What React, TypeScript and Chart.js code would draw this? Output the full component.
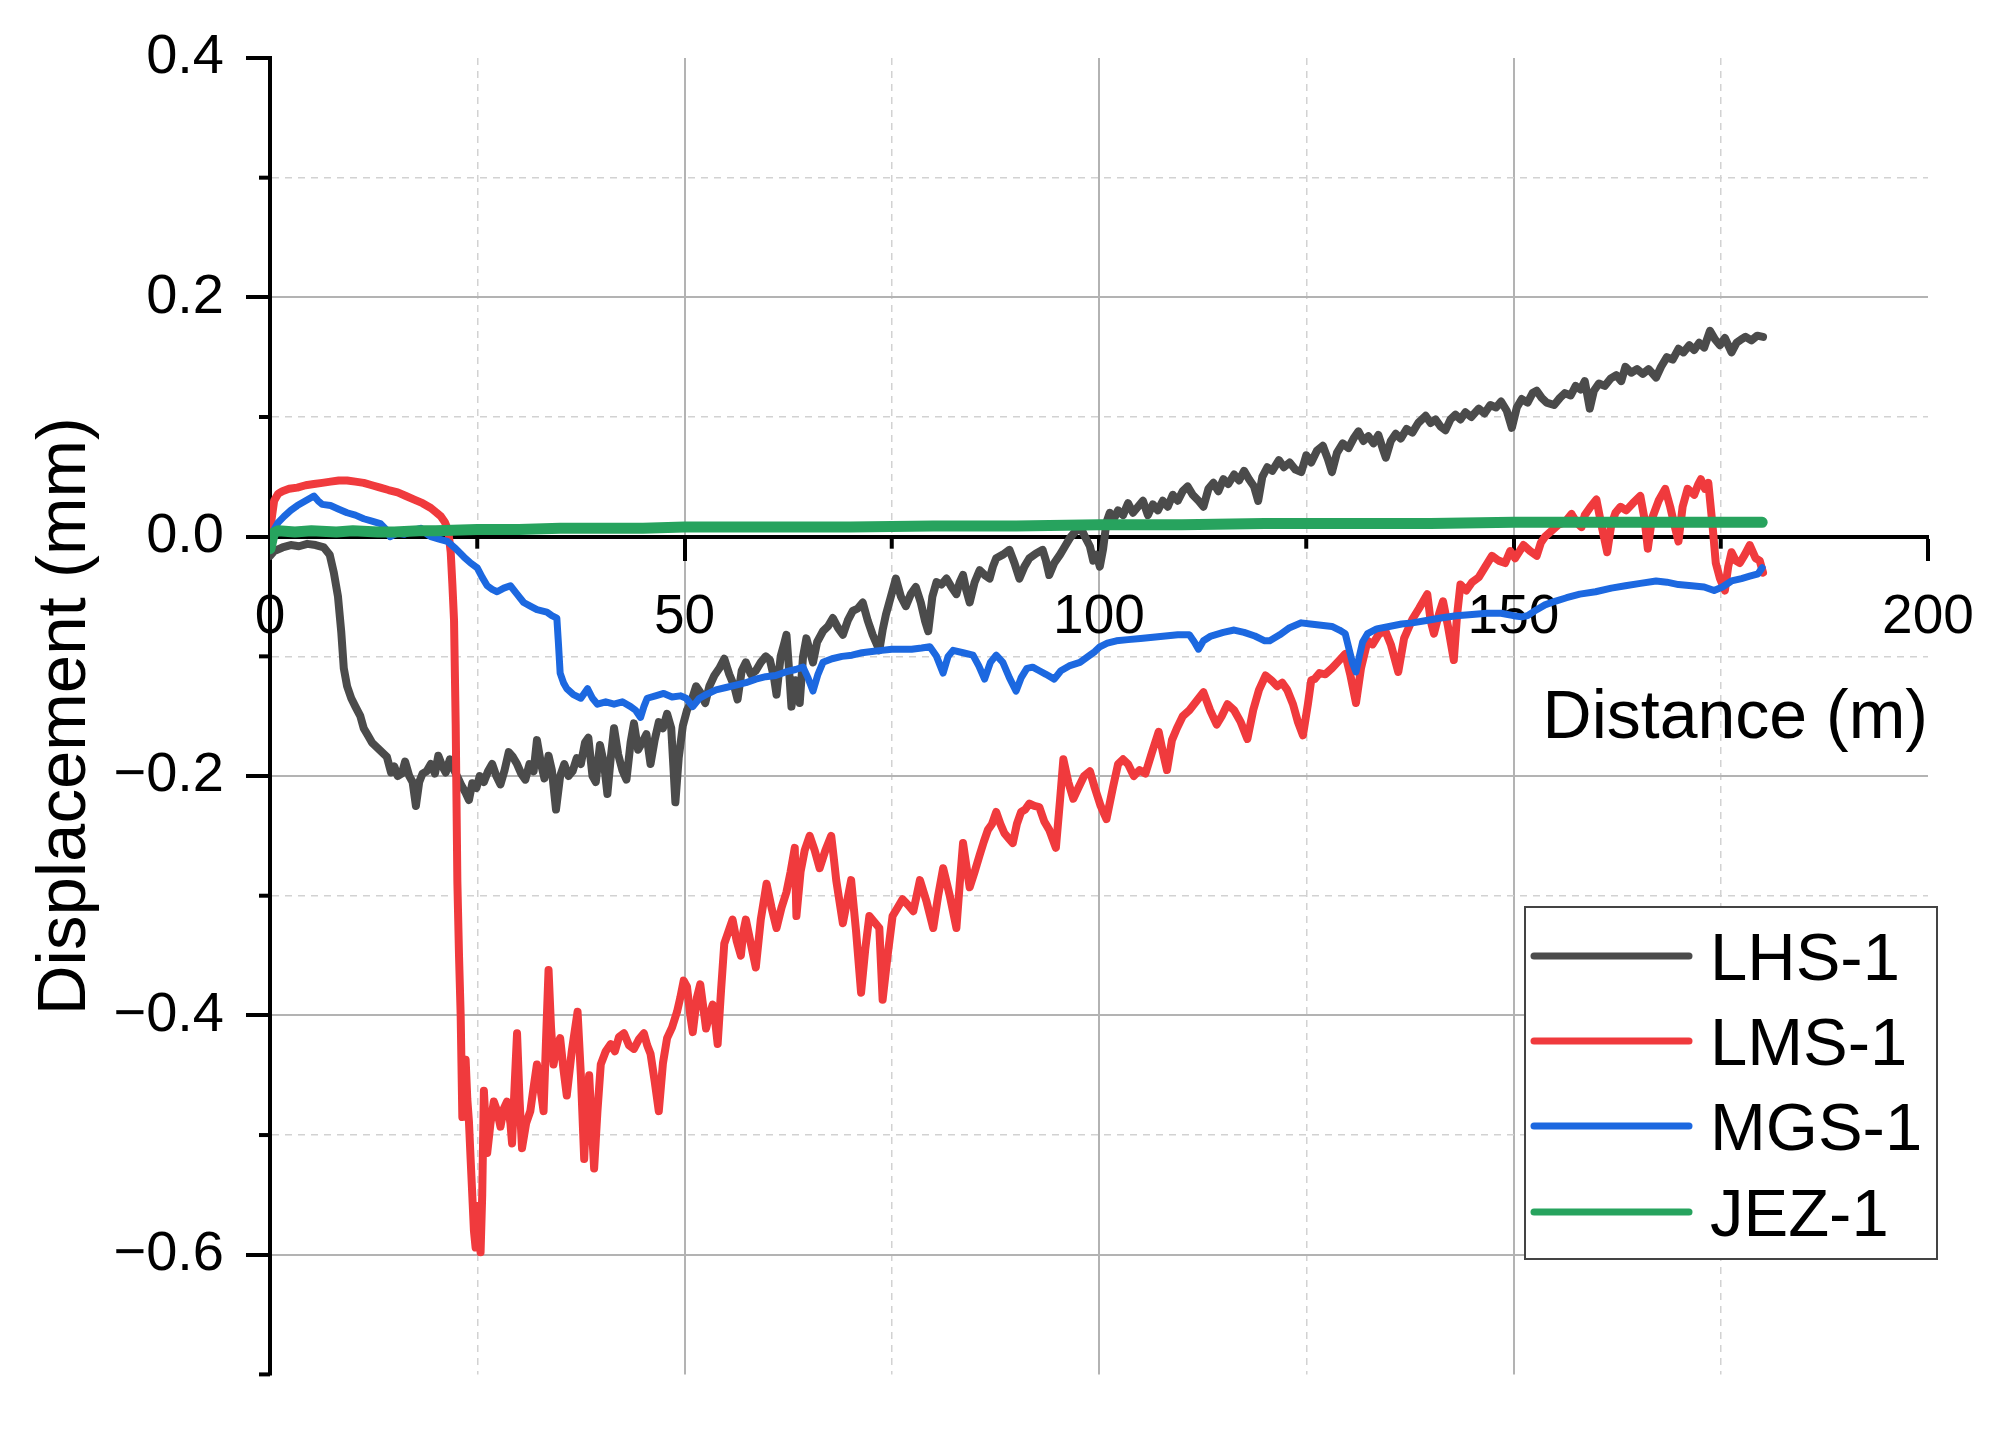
import React, { useEffect, useRef } from 'react';
import { Chart, registerables } from 'chart.js';

Chart.register(...registerables);

// ---------------- data ----------------
const SERIES_NAMES = ['LHS-1', 'LMS-1', 'MGS-1', 'JEZ-1'];
const SERIES_COLORS = ['#4b4b4b', '#f03a3d', '#1c68e0', '#27a35e'];

const X_MIN = 0;
const X_MAX = 200;
const X_STEP = 25;
const Y_MIN = -0.7;
const Y_MAX = 0.4;
const Y_STEP = 0.1;

const X_TITLE = 'Distance (m)';
const Y_TITLE = 'Displacement (mm)';

// [distance (m), displacement (mm)]
const LHS: [number, number][] = [
  [0, -0.016], [0.5, -0.012], [1.5, -0.009], [2.5, -0.007], [3.5, -0.008], [4.5, -0.006], [5.5, -0.007], [6.5, -0.009],
  [7.2, -0.015], [7.7, -0.03], [8.2, -0.05], [8.6, -0.08], [8.9, -0.11], [9.3, -0.125], [9.8, -0.135], [10.3, -0.142],
  [10.9, -0.15], [11.3, -0.16], [11.8, -0.166], [12.3, -0.172], [12.9, -0.176], [13.5, -0.18], [14.1, -0.184], [14.6, -0.197],
  [15.0, -0.192], [15.4, -0.2], [15.9, -0.198], [16.3, -0.188], [16.8, -0.2], [17.2, -0.205], [17.6, -0.225], [18.0, -0.205],
  [18.4, -0.198], [18.9, -0.196], [19.4, -0.19], [19.9, -0.198], [20.3, -0.183], [20.8, -0.192], [21.2, -0.197], [21.7, -0.186],
  [22.2, -0.195], [22.7, -0.202], [23.1, -0.208], [23.6, -0.214], [24.0, -0.22], [24.4, -0.206], [24.9, -0.21], [25.3, -0.2],
  [25.8, -0.205], [26.3, -0.196], [26.8, -0.19], [27.3, -0.2], [27.8, -0.207], [28.3, -0.195], [28.8, -0.18], [29.3, -0.184],
  [29.8, -0.19], [30.3, -0.198], [30.8, -0.203], [31.3, -0.19], [31.8, -0.196], [32.2, -0.17], [32.7, -0.19], [33.1, -0.202],
  [33.6, -0.183], [34.0, -0.195], [34.5, -0.228], [35.0, -0.2], [35.5, -0.19], [36.0, -0.2], [36.5, -0.196], [37.0, -0.185],
  [37.5, -0.19], [38.0, -0.172], [38.4, -0.168], [38.9, -0.2], [39.3, -0.205], [39.8, -0.174], [40.3, -0.19], [40.7, -0.215],
  [41.1, -0.185], [41.5, -0.16], [42.0, -0.182], [42.5, -0.195], [43.0, -0.203], [43.5, -0.172], [43.9, -0.156], [44.4, -0.178],
  [44.9, -0.172], [45.4, -0.165], [45.9, -0.19], [46.4, -0.17], [46.9, -0.155], [47.4, -0.16], [47.9, -0.148], [48.4, -0.16],
  [48.9, -0.222], [49.3, -0.185], [49.8, -0.158], [50.3, -0.145], [50.8, -0.138], [51.4, -0.125], [51.9, -0.13], [52.5, -0.139],
  [53.0, -0.125], [53.6, -0.116], [54.2, -0.11], [54.8, -0.102], [55.4, -0.115], [56.0, -0.125], [56.4, -0.136], [56.9, -0.112],
  [57.4, -0.105], [58.0, -0.115], [58.6, -0.112], [59.2, -0.105], [59.8, -0.1], [60.3, -0.103], [60.8, -0.118], [61.1, -0.132],
  [61.6, -0.1], [62.0, -0.09], [62.3, -0.082], [62.6, -0.11], [62.9, -0.142], [63.4, -0.12], [63.9, -0.139], [64.3, -0.1],
  [64.7, -0.085], [65.1, -0.095], [65.5, -0.105], [66.0, -0.088], [66.7, -0.079], [67.3, -0.075], [67.9, -0.068], [68.5, -0.076],
  [69.1, -0.082], [69.7, -0.07], [70.3, -0.062], [70.9, -0.06], [71.5, -0.055], [72.1, -0.07], [72.7, -0.082], [73.2, -0.09],
  [73.5, -0.095], [73.9, -0.078], [74.3, -0.065], [74.9, -0.05], [75.5, -0.035], [76.1, -0.05], [76.7, -0.058], [77.3, -0.048],
  [77.9, -0.042], [78.5, -0.055], [79.0, -0.07], [79.4, -0.079], [79.9, -0.05], [80.4, -0.038], [81.0, -0.04], [81.6, -0.035],
  [82.2, -0.042], [82.8, -0.048], [83.2, -0.038], [83.6, -0.032], [84.0, -0.045], [84.4, -0.055], [85.0, -0.038], [85.6, -0.028],
  [86.2, -0.032], [86.8, -0.035], [87.2, -0.025], [87.6, -0.018], [88.4, -0.015], [89.2, -0.011], [89.8, -0.022], [90.4, -0.035],
  [91.0, -0.025], [91.6, -0.018], [92.4, -0.014], [93.2, -0.011], [93.6, -0.02], [94.0, -0.032], [94.6, -0.022], [95.3, -0.015],
  [95.9, -0.008], [96.5, -0.001], [97.1, 0.004], [97.7, 0.009], [98.3, 0.0], [98.9, -0.008], [99.3, -0.02], [99.7, -0.015],
  [100.1, -0.025], [100.5, -0.01], [100.9, 0.012], [101.3, 0.02], [101.8, 0.015], [102.3, 0.022], [102.9, 0.018], [103.5, 0.028],
  [104.1, 0.02], [104.7, 0.025], [105.3, 0.03], [105.9, 0.018], [106.5, 0.027], [107.1, 0.022], [107.7, 0.03], [108.3, 0.025],
  [108.9, 0.035], [109.5, 0.03], [110.1, 0.038], [110.7, 0.042], [111.3, 0.035], [112.0, 0.03], [112.6, 0.025], [113.2, 0.04],
  [113.8, 0.045], [114.4, 0.038], [115.0, 0.048], [115.6, 0.044], [116.3, 0.052], [116.9, 0.047], [117.5, 0.055], [118.1, 0.048],
  [118.7, 0.042], [119.2, 0.03], [119.7, 0.05], [120.3, 0.058], [120.9, 0.055], [121.7, 0.064], [122.3, 0.058], [123.0, 0.062],
  [123.7, 0.056], [124.4, 0.054], [125.0, 0.068], [125.6, 0.062], [126.3, 0.072], [127.0, 0.076], [127.6, 0.065], [128.1, 0.054],
  [128.7, 0.07], [129.4, 0.078], [130.1, 0.074], [130.7, 0.082], [131.3, 0.088], [131.9, 0.08], [132.5, 0.084], [133.1, 0.078],
  [133.7, 0.085], [134.3, 0.072], [134.6, 0.066], [135.2, 0.08], [135.8, 0.086], [136.4, 0.082], [137.1, 0.09], [137.8, 0.087],
  [138.5, 0.095], [139.4, 0.101], [140.0, 0.095], [140.6, 0.098], [141.2, 0.092], [141.8, 0.089], [142.4, 0.098], [143.0, 0.102],
  [143.6, 0.098], [144.2, 0.104], [144.9, 0.1], [145.8, 0.107], [146.5, 0.103], [147.2, 0.11], [147.9, 0.108], [148.5, 0.113],
  [149.2, 0.105], [149.8, 0.091], [150.4, 0.108], [151.0, 0.115], [151.7, 0.112], [152.3, 0.12], [152.8, 0.122], [153.4, 0.116],
  [154.0, 0.112], [154.9, 0.11], [155.6, 0.116], [156.2, 0.12], [156.9, 0.118], [157.5, 0.126], [158.1, 0.123], [158.6, 0.13],
  [159.2, 0.107], [159.7, 0.122], [160.3, 0.128], [161.0, 0.126], [161.7, 0.132], [162.4, 0.135], [163.0, 0.13], [163.5, 0.142],
  [164.2, 0.137], [164.9, 0.14], [165.6, 0.136], [166.3, 0.14], [167.2, 0.133], [167.8, 0.142], [168.5, 0.15], [169.2, 0.148],
  [169.9, 0.157], [170.5, 0.154], [171.2, 0.16], [171.8, 0.156], [172.4, 0.162], [173.0, 0.158], [173.7, 0.172], [174.3, 0.165],
  [174.9, 0.16], [175.5, 0.166], [176.3, 0.154], [176.9, 0.162], [177.5, 0.165], [178.0, 0.167], [178.7, 0.164], [179.4, 0.168],
  [180.1, 0.167],
];

const LMS: [number, number][] = [
  [0, 0.0], [0.2, 0.015], [0.5, 0.03], [1.0, 0.036], [1.5, 0.038], [2.3, 0.04], [3.3, 0.041], [4.3, 0.043], [5.3, 0.044],
  [6.3, 0.045], [7.3, 0.046], [8.3, 0.047], [9.3, 0.047], [10.3, 0.046], [11.3, 0.045], [12.3, 0.043], [13.3, 0.041],
  [14.3, 0.039], [15.4, 0.037], [16.4, 0.034], [17.4, 0.031], [18.4, 0.028], [19.4, 0.024], [20.1, 0.02], [20.6, 0.017],
  [21.1, 0.012], [21.5, 0.005], [21.8, -0.013], [22.0, -0.04], [22.2, -0.07], [22.4, -0.157], [22.6, -0.288], [22.8, -0.35],
  [23.0, -0.4], [23.2, -0.485], [23.4, -0.46], [23.6, -0.437], [23.8, -0.47], [24.0, -0.489], [24.2, -0.52], [24.4, -0.55],
  [24.6, -0.58], [24.8, -0.594], [25.0, -0.575], [25.2, -0.559], [25.4, -0.598], [25.6, -0.55], [25.8, -0.463], [26.0, -0.49],
  [26.2, -0.515], [26.6, -0.49], [27.0, -0.472], [27.4, -0.48], [27.8, -0.493], [28.2, -0.478], [28.6, -0.472], [29.0, -0.49],
  [29.2, -0.507], [29.5, -0.46], [29.8, -0.415], [30.1, -0.47], [30.4, -0.511], [30.9, -0.49], [31.4, -0.48], [31.8, -0.46],
  [32.2, -0.441], [32.6, -0.46], [33.0, -0.48], [33.3, -0.42], [33.6, -0.362], [33.9, -0.41], [34.2, -0.441], [34.6, -0.425],
  [35.0, -0.419], [35.4, -0.445], [35.8, -0.467], [36.4, -0.43], [37.1, -0.397], [37.5, -0.45], [37.9, -0.52], [38.2, -0.47],
  [38.5, -0.45], [38.8, -0.49], [39.1, -0.528], [39.5, -0.48], [39.9, -0.441], [40.5, -0.43], [41.1, -0.424], [41.6, -0.43],
  [42.1, -0.418], [42.7, -0.415], [43.3, -0.425], [43.9, -0.428], [44.5, -0.42], [45.1, -0.415], [45.5, -0.425], [45.9, -0.432],
  [46.4, -0.455], [46.9, -0.48], [47.4, -0.44], [47.9, -0.419], [48.5, -0.41], [49.1, -0.397], [49.5, -0.385], [49.9, -0.371],
  [50.3, -0.376], [50.7, -0.4], [51.0, -0.414], [51.5, -0.385], [51.9, -0.374], [52.3, -0.395], [52.6, -0.411], [53.0, -0.4],
  [53.4, -0.391], [53.7, -0.405], [54.0, -0.424], [54.4, -0.38], [54.8, -0.34], [55.3, -0.33], [55.8, -0.32], [56.3, -0.338],
  [56.8, -0.35], [57.1, -0.33], [57.4, -0.32], [58.0, -0.34], [58.6, -0.36], [59.2, -0.32], [59.9, -0.29], [60.5, -0.31],
  [61.1, -0.327], [61.7, -0.31], [62.3, -0.297], [62.8, -0.28], [63.3, -0.26], [63.5, -0.317], [64.0, -0.28], [64.5, -0.262],
  [65.1, -0.25], [65.7, -0.262], [66.3, -0.277], [67.0, -0.262], [67.7, -0.25], [68.0, -0.268], [68.3, -0.287], [68.7, -0.305],
  [69.1, -0.323], [69.6, -0.305], [70.1, -0.287], [70.7, -0.33], [71.3, -0.381], [71.8, -0.345], [72.3, -0.317], [72.9, -0.322],
  [73.5, -0.327], [73.9, -0.387], [74.5, -0.35], [75.1, -0.317], [75.7, -0.31], [76.3, -0.303], [77.0, -0.308], [77.6, -0.313],
  [78.0, -0.3], [78.4, -0.287], [79.2, -0.305], [80.0, -0.327], [80.6, -0.3], [81.2, -0.277], [82.0, -0.3], [82.8, -0.327],
  [83.2, -0.29], [83.6, -0.256], [84.0, -0.275], [84.4, -0.293], [85.0, -0.28], [85.6, -0.266], [86.1, -0.255], [86.6, -0.245],
  [87.1, -0.24], [87.6, -0.23], [88.1, -0.24], [88.6, -0.248], [89.1, -0.252], [89.6, -0.256], [90.1, -0.24], [90.6, -0.23],
  [91.1, -0.228], [91.6, -0.223], [92.2, -0.225], [92.8, -0.226], [93.4, -0.238], [94.0, -0.245], [94.8, -0.26], [95.3, -0.22],
  [95.7, -0.186], [96.3, -0.205], [96.9, -0.219], [97.5, -0.21], [98.2, -0.2], [98.9, -0.196], [99.5, -0.21], [100.2, -0.225],
  [100.9, -0.236], [101.7, -0.209], [102.3, -0.19], [102.9, -0.186], [103.5, -0.19], [104.2, -0.2], [104.9, -0.195], [105.6, -0.198],
  [106.4, -0.18], [107.2, -0.163], [107.7, -0.18], [108.2, -0.195], [108.8, -0.17], [109.4, -0.16], [110.1, -0.15], [110.9, -0.145],
  [111.7, -0.138], [112.6, -0.13], [113.4, -0.145], [114.2, -0.157], [114.8, -0.15], [115.5, -0.14], [116.3, -0.145], [117.1, -0.155],
  [117.9, -0.169], [118.6, -0.145], [119.3, -0.128], [120.1, -0.116], [120.8, -0.12], [121.5, -0.125], [122.1, -0.122], [122.7, -0.128],
  [123.4, -0.14], [124.0, -0.155], [124.6, -0.166], [125.2, -0.14], [125.6, -0.12], [126.0, -0.119], [126.6, -0.114], [127.3, -0.115],
  [128.1, -0.11], [128.9, -0.104], [129.7, -0.098], [130.3, -0.115], [131.0, -0.139], [131.6, -0.11], [132.4, -0.087], [133.0, -0.09],
  [133.7, -0.082], [134.5, -0.078], [135.2, -0.09], [136.1, -0.113], [136.8, -0.085], [137.8, -0.069], [138.6, -0.06], [139.6, -0.048],
  [140.0, -0.07], [140.4, -0.081], [141.0, -0.065], [141.5, -0.054], [142.1, -0.075], [142.8, -0.103], [143.2, -0.065], [143.6, -0.04],
  [144.3, -0.045], [145.0, -0.038], [145.8, -0.034], [146.6, -0.025], [147.4, -0.016], [148.2, -0.02], [149.0, -0.022], [149.6, -0.012],
  [150.2, -0.018], [151.2, -0.007], [152.0, -0.012], [152.8, -0.016], [153.3, -0.005], [153.8, 0.0], [154.6, 0.005], [155.4, 0.01],
  [156.2, 0.012], [157.0, 0.019], [157.6, 0.012], [158.2, 0.008], [158.6, 0.018], [159.3, 0.025], [160.0, 0.031], [160.6, 0.01],
  [161.3, -0.013], [161.8, 0.01], [162.3, 0.02], [162.9, 0.025], [163.6, 0.022], [164.4, 0.028], [165.3, 0.034], [165.8, 0.015],
  [166.2, -0.01], [166.7, 0.015], [167.5, 0.03], [168.3, 0.04], [168.9, 0.025], [169.4, 0.01], [169.9, -0.004], [170.4, 0.025],
  [171.0, 0.04], [171.8, 0.035], [172.3, 0.044], [172.6, 0.048], [173.1, 0.04], [173.5, 0.045], [174.0, 0.01], [174.4, -0.022],
  [174.9, -0.035], [175.5, -0.045], [175.9, -0.025], [176.3, -0.013], [176.8, -0.02], [177.3, -0.022], [177.9, -0.015], [178.5, -0.007],
  [179.2, -0.018], [179.7, -0.02], [180.1, -0.03],
];

const MGS: [number, number][] = [
  [0, 0.0], [0.5, 0.006], [1.0, 0.012], [1.7, 0.017], [2.5, 0.022], [3.3, 0.026], [4.3, 0.03], [5.3, 0.034], [5.8, 0.03],
  [6.3, 0.027], [7.3, 0.026], [8.3, 0.023], [9.3, 0.02], [10.3, 0.018], [11.3, 0.015], [12.3, 0.013], [13.3, 0.011], [14.0, 0.006],
  [14.5, 0.0], [15.3, 0.003], [16.2, 0.002], [17.2, 0.005], [18.2, 0.007], [18.8, 0.003], [19.4, 0.0], [20.4, -0.002], [21.4, -0.004],
  [22.4, -0.01], [23.4, -0.017], [24.2, -0.022], [25.0, -0.026], [25.6, -0.034], [26.2, -0.041], [26.8, -0.044], [27.4, -0.046],
  [28.2, -0.043], [29.0, -0.041], [29.8, -0.048], [30.6, -0.055], [31.4, -0.058], [32.2, -0.061], [32.8, -0.062], [33.4, -0.063],
  [34.0, -0.066], [34.6, -0.068], [34.8, -0.09], [35.0, -0.114], [35.4, -0.122], [35.8, -0.127], [36.6, -0.132], [37.5, -0.135],
  [38.3, -0.127], [38.9, -0.135], [39.5, -0.14], [40.5, -0.138], [41.5, -0.14], [42.5, -0.138], [43.5, -0.142], [44.1, -0.145],
  [44.7, -0.151], [45.1, -0.142], [45.5, -0.135], [46.5, -0.133], [47.5, -0.131], [48.5, -0.134], [49.5, -0.133], [50.2, -0.135],
  [51.0, -0.142], [51.8, -0.135], [52.6, -0.132], [53.8, -0.128], [55.0, -0.126], [56.2, -0.124], [57.4, -0.122], [58.6, -0.119],
  [59.8, -0.117], [61.0, -0.116], [62.2, -0.113], [63.4, -0.111], [64.3, -0.109], [64.9, -0.118], [65.5, -0.129], [66.1, -0.115],
  [66.7, -0.105], [67.8, -0.102], [69.0, -0.1], [70.2, -0.099], [71.4, -0.097], [72.6, -0.096], [73.8, -0.095], [75.0, -0.094],
  [76.2, -0.094], [77.4, -0.094], [78.6, -0.093], [79.6, -0.092], [80.4, -0.1], [81.2, -0.114], [81.8, -0.1], [82.4, -0.095],
  [83.6, -0.097], [84.8, -0.099], [85.5, -0.108], [86.2, -0.119], [86.9, -0.105], [87.6, -0.099], [88.4, -0.105], [89.2, -0.118],
  [90.0, -0.129], [90.6, -0.118], [91.3, -0.11], [92.0, -0.109], [92.8, -0.112], [93.6, -0.115], [94.6, -0.119], [95.4, -0.112],
  [96.4, -0.108], [97.7, -0.105], [98.7, -0.1], [99.5, -0.096], [100.1, -0.092], [101.0, -0.089], [102.1, -0.087], [103.5, -0.086],
  [105.0, -0.085], [106.5, -0.084], [108.0, -0.083], [109.5, -0.082], [110.9, -0.082], [111.5, -0.088], [112.0, -0.094], [112.6, -0.087],
  [113.5, -0.083], [115.0, -0.08], [116.3, -0.078], [117.5, -0.08], [118.8, -0.083], [120.0, -0.087], [120.6, -0.087], [121.8, -0.082],
  [123.0, -0.076], [124.4, -0.072], [125.5, -0.073], [126.8, -0.074], [128.1, -0.075], [129.0, -0.078], [129.7, -0.081], [130.2, -0.095],
  [130.6, -0.106], [131.0, -0.113], [131.4, -0.1], [131.8, -0.088], [132.4, -0.081], [133.5, -0.077], [135.0, -0.075], [136.5, -0.073],
  [137.8, -0.072], [139.5, -0.07], [141.2, -0.068], [143.1, -0.066], [145.0, -0.065], [146.8, -0.064], [148.5, -0.064], [150.0, -0.066],
  [151.0, -0.067], [151.7, -0.066], [152.8, -0.061], [153.8, -0.057], [155.0, -0.054], [156.4, -0.051], [158.0, -0.048], [159.9, -0.046],
  [161.8, -0.043], [163.5, -0.041], [165.3, -0.039], [167.2, -0.037], [168.5, -0.038], [169.9, -0.04], [171.5, -0.041], [173.0, -0.042],
  [174.2, -0.045], [175.2, -0.042], [176.3, -0.037], [177.5, -0.035], [178.5, -0.033], [179.5, -0.031], [180.0, -0.026],
];

const JEZ: [number, number][] = [
  [0, -0.01], [0.4, 0.003], [1, 0.005], [3, 0.004], [5, 0.005], [8, 0.004], [10, 0.005], [13, 0.004], [15, 0.004], [18, 0.005],
  [20, 0.005], [25, 0.006], [30, 0.006], [35, 0.007], [40, 0.007], [45, 0.007], [50, 0.008], [60, 0.008], [70, 0.008],
  [80, 0.009], [90, 0.009], [100, 0.01], [110, 0.01], [120, 0.011], [130, 0.011], [140, 0.011], [150, 0.012], [160, 0.012],
  [170, 0.012], [180, 0.012],
];

const SERIES = [LHS, LMS, MGS, JEZ];

// ---------------- styling ----------------
const FONT = "'Liberation Sans', Arial, Helvetica, sans-serif";
const MAJOR_GRID = '#b3b3b3';
const MINOR_GRID = '#d2d2d2';
const CLEAR = 'rgba(0,0,0,0)';
const LINE_WIDTHS = [8, 8, 7, 11];

const yKey = (v: number) => Math.round(v * 10);
const yIsMajor = (v: number) => yKey(v) % 2 === 0;
const xIsMajor = (v: number) => Math.round(v) % 50 === 0;

const decorPlugin = {
  id: 'decor',
  beforeDraw(chart: any) {
    const { ctx, width, height } = chart;
    ctx.save();
    ctx.fillStyle = '#ffffff';
    ctx.fillRect(0, 0, width, height);
    ctx.restore();
  },
  afterDraw(chart: any) {
    const ctx = chart.ctx;
    const xs = chart.scales.x;
    const ys = chart.scales.y;
    const area = chart.chartArea;
    const y0 = ys.getPixelForValue(0);
    ctx.save();
    ctx.strokeStyle = '#000';
    ctx.lineWidth = 4;
    ctx.lineCap = 'butt';
    // minor ticks
    ys.ticks.forEach((t: any) => {
      if (yIsMajor(t.value)) return;
      const py = ys.getPixelForValue(t.value);
      ctx.beginPath();
      ctx.moveTo(area.left - 11, py);
      ctx.lineTo(area.left, py);
      ctx.stroke();
    });
    xs.ticks.forEach((t: any) => {
      if (xIsMajor(t.value)) return;
      const px = xs.getPixelForValue(t.value);
      ctx.beginPath();
      ctx.moveTo(px, y0);
      ctx.lineTo(px, y0 + 12);
      ctx.stroke();
    });
    ctx.restore();

    // legend
    const L = 1525, T = 907, R = 1937, B = 1259;
    ctx.save();
    ctx.fillStyle = '#fff';
    ctx.fillRect(L, T, R - L, B - T);
    ctx.strokeStyle = '#444';
    ctx.lineWidth = 2;
    ctx.strokeRect(L, T, R - L, B - T);
    const rows = [956, 1041, 1126, 1212];
    chart.data.datasets.forEach((ds: any, i: number) => {
      const cy = rows[i];
      ctx.strokeStyle = ds.borderColor;
      ctx.lineWidth = 7;
      ctx.lineCap = 'round';
      ctx.beginPath();
      ctx.moveTo(1534, cy);
      ctx.lineTo(1689, cy);
      ctx.stroke();
      ctx.fillStyle = '#000';
      ctx.font = `67px ${FONT}`;
      ctx.textAlign = 'left';
      ctx.textBaseline = 'alphabetic';
      ctx.fillText(ds.label, 1710, cy + 24);
    });
    ctx.restore();
  },
};

export default function App() {
  const canvasRef = useRef<HTMLCanvasElement | null>(null);

  useEffect(() => {
    const canvas = canvasRef.current;
    if (!canvas) return;
    Chart.defaults.font.family = FONT;
    Chart.defaults.color = '#000';

    const datasets = SERIES.map((d, i) => ({
      label: SERIES_NAMES[i],
      data: d.map(([x, y]) => ({ x, y })),
      borderColor: SERIES_COLORS[i],
      backgroundColor: SERIES_COLORS[i],
      borderWidth: LINE_WIDTHS[i],
      pointRadius: 0,
      pointHoverRadius: 0,
      tension: 0,
      fill: false,
      borderJoinStyle: 'round' as const,
      borderCapStyle: 'round' as const,
      order: 4 - i,
    }));

    const chart = new Chart(canvas, {
      type: 'line',
      data: { datasets },
      plugins: [decorPlugin],
      options: {
        animation: false,
        responsive: false,
        devicePixelRatio: 1,
        layout: { padding: { left: 0, top: 58, right: 79, bottom: 39 } },
        plugins: { legend: { display: false }, tooltip: { enabled: false } },
        scales: {
          x: {
            type: 'linear',
            min: X_MIN,
            max: X_MAX,
            position: { y: 0 } as any,
            ticks: {
              stepSize: X_STEP,
              autoSkip: false,
              maxRotation: 0,
              padding: 26,
              color: '#000',
              font: { size: 55, family: FONT },
              callback: (v: any) => (xIsMajor(Number(v)) ? String(v) : ''),
            },
            grid: {
              drawTicks: true,
              tickLength: 22,
              tickWidth: 4,
              tickBorderDash: [],
              tickColor: (c: any) => (c.tick && xIsMajor(c.tick.value) ? '#000' : CLEAR),
              color: (c: any) => {
                const v = c.tick ? c.tick.value : 0;
                if (v <= X_MIN || v >= X_MAX) return CLEAR;
                return xIsMajor(v) ? MAJOR_GRID : MINOR_GRID;
              },
              lineWidth: (c: any) => (c.tick && xIsMajor(c.tick.value) ? 2 : 1.5),
            },
            border: {
              display: true,
              color: '#000',
              width: 4,
              dash: (c: any) => (c.type === 'tick' && c.tick && !xIsMajor(c.tick.value) ? [7, 6] : []),
            },
            title: {
              display: true,
              text: X_TITLE,
              align: 'end',
              color: '#000',
              font: { size: 68, family: FONT },
              padding: { top: 2, bottom: 0 },
            },
          },
          y: {
            type: 'linear',
            min: Y_MIN,
            max: Y_MAX,
            position: 'left',
            afterFit: (s: any) => {
              s.width = 270;
            },
            ticks: {
              stepSize: Y_STEP,
              autoSkip: false,
              padding: 22,
              color: '#000',
              font: { size: 56, family: FONT },
              callback: (v: any) => {
                const k = yKey(Number(v));
                if (k % 2 !== 0) return '';
                if (k === 0) return '0.0';
                return (k < 0 ? '\u2212' : '') + (Math.abs(k) / 10).toFixed(1);
              },
            },
            grid: {
              drawTicks: true,
              tickLength: 24,
              tickWidth: 4,
              tickBorderDash: [],
              tickColor: (c: any) => (c.tick && yIsMajor(c.tick.value) ? '#000' : CLEAR),
              color: (c: any) => {
                if (!c.tick) return CLEAR;
                const k = yKey(c.tick.value);
                if (k >= 4 || k <= -7) return CLEAR;
                return k % 2 === 0 ? MAJOR_GRID : MINOR_GRID;
              },
              lineWidth: (c: any) => (c.tick && yIsMajor(c.tick.value) ? 2 : 1.5),
            },
            border: {
              display: true,
              color: '#000',
              width: 4,
              dash: (c: any) => (c.type === 'tick' && c.tick && !yIsMajor(c.tick.value) ? [7, 6] : []),
            },
            title: {
              display: true,
              text: Y_TITLE,
              color: '#000',
              font: { size: 69, family: FONT },
              padding: { top: 25, bottom: 0 },
            },
          },
        },
      },
    });

    return () => {
      chart.destroy();
    };
  }, []);

  return (
    <div style={{ position: 'absolute', left: 0, top: 0, width: 2007, height: 1430, background: '#fff' }}>
      <canvas ref={canvasRef} width={2007} height={1430} style={{ display: 'block', width: 2007, height: 1430 }} />
    </div>
  );
}
